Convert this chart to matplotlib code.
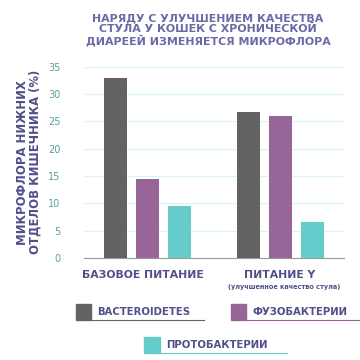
import matplotlib
matplotlib.use("Agg")
import matplotlib.pyplot as plt
import numpy as np
from matplotlib.patches import Rectangle
from matplotlib.lines import Line2D

categories = ["БАЗОВОЕ ПИТАНИЕ", "ПИТАНИЕ Y"]
subtitles = ["", "(улучшенное качество стула)"]
series_names = ["BACTEROIDETES", "ФУЗОБАКТЕРИИ", "ПРОТОБАКТЕРИИ"]
bacteroidetes = [33.0, 26.7]
fusobacteria = [14.5, 25.9]
proteobacteria = [9.5, 6.5]
yticks = [0, 5, 10, 15, 20, 25, 30, 35]
title_lines = ["НАРЯДУ С УЛУЧШЕНИЕМ КАЧЕСТВА",
               "СТУЛА У КОШЕК С ХРОНИЧЕСКОЙ",
               "ДИАРЕЕЙ ИЗМЕНЯЕТСЯ МИКРОФЛОРА"]

colors = ["#636363", "#986598", "#66cccb"]
title_col = "#6a6aa6"
text_col = "#50508a"
tick_col = "#5a9e9e"

plt.rcParams['font.family'] = ['DejaVu Sans']
fig = plt.figure(figsize=(3.6, 3.6), dpi=100)
ax = fig.add_axes([84/360, 1-258/360, 260/360, (258-66.7)/360])

group_x = np.array([0.0, 4.17])
width = 0.73
for i, vals in enumerate([bacteroidetes, fusobacteria, proteobacteria]):
    ax.bar(group_x + (i-1), vals, width=width, color=colors[i], zorder=3)

ax.set_xlim(-1.98, 4.17+1.98)
ax.set_ylim(0, 35)
ax.set_yticks(yticks)
ax.set_yticklabels([str(t) for t in yticks], color=tick_col, fontsize=7)
ax.tick_params(axis='y', length=0, pad=17)
ax.set_xticks([])
ax.grid(axis='y', color="#d6f5f7", linewidth=0.8, zorder=0)
for s in ["top", "right", "left"]:
    ax.spines[s].set_visible(False)
ax.spines["bottom"].set_color("#9a9a9a")
ax.spines["bottom"].set_linewidth(0.8)

ax.set_ylabel("МИКРОФЛОРА НИЖНИХ\nОТДЕЛОВ КИШЕЧНИКА (%)", color=text_col,
              fontsize=8.4, fontweight='bold', linespacing=0.95)
ax.yaxis.set_label_coords(-0.163, 0.5)

for yy, line in zip([21, 31.5, 44], title_lines):
    fig.text(208/360, 1-yy/360, line, ha='center', va='baseline', color=title_col,
             fontsize=7.9, fontweight='bold')

# category labels
cx = [143/360, 280/360]
for k, c in enumerate(categories):
    fig.text(cx[k], 1-275/360, c, ha='center', va='center', color=text_col,
             fontsize=7.8, fontweight='bold')
fig.text(284/360, 1-287.5/360, subtitles[1], ha='center', va='center',
         color=text_col, fontsize=4.7, fontweight='bold')

# legend
leg = [
    (75.7, 304, 97, 312, 204, series_names[0]),
    (230.7, 304, 252.7, 312, 360, series_names[1]),
    (144, 337, 166, 345, 287, series_names[2]),
]
for i, (sx, sy, tx, ty, ux, name) in enumerate(leg):
    fig.patches.append(Rectangle((sx/360, 1-(sy+15.5)/360), 15.5/360, 15.5/360,
                                 transform=fig.transFigure, color=colors[i]))
    fig.lines.append(Line2D([(sx+15)/360, ux/360], [1-(sy+15.5)/360]*2,
                            transform=fig.transFigure, color=colors[i], linewidth=0.8))
    fig.text(tx/360, 1-ty/360, name, ha='left', va='center', color=text_col,
             fontsize=7.3, fontweight='bold')

fig.savefig("out.png", dpi=100)
